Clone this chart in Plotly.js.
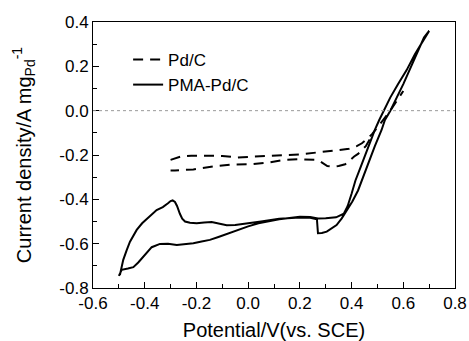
<!DOCTYPE html>
<html>
<head>
<meta charset="utf-8">
<script src="https://cdn.plot.ly/plotly-3.0.1.min.js"></script>
<style>html,body{margin:0;padding:0;background:#fff;}#chart{width:469px;height:341px;}</style>
</head>
<body>
<div id="chart"></div>
<script>
// Pd/C (dashed) — forward branch (upper) and return branch (lower)
const pdcUpperX = [-0.30, -0.28, -0.26, -0.22, -0.15, -0.10, -0.04, 0.04, 0.10, 0.20, 0.28, 0.34, 0.39, 0.42, 0.44, 0.46, 0.48, 0.50, 0.52, 0.55, 0.575, 0.60];
const pdcUpperY = [-0.222, -0.214, -0.207, -0.203, -0.203, -0.204, -0.211, -0.207, -0.201, -0.197, -0.187, -0.180, -0.172, -0.160, -0.147, -0.128, -0.105, -0.075, -0.045, 0.000, 0.045, 0.089];
const pdcLowerX = [0.47, 0.455, 0.44, 0.425, 0.41, 0.39, 0.375, 0.35, 0.33, 0.306, 0.29, 0.28, 0.26, 0.20, 0.14, 0.078, 0.007, -0.064, -0.135, -0.212, -0.283, -0.30];
const pdcLowerY = [-0.130, -0.160, -0.177, -0.195, -0.207, -0.228, -0.242, -0.250, -0.252, -0.250, -0.238, -0.230, -0.222, -0.219, -0.222, -0.234, -0.242, -0.243, -0.252, -0.265, -0.270, -0.270];

// PMA-Pd/C (solid) — closed CV loop
const pmaX = [-0.50, -0.489, -0.465, -0.444, -0.425, -0.405, -0.39, -0.373, -0.341, -0.31, -0.276, -0.24, -0.212, -0.18, -0.148, -0.115, -0.083, -0.04, 0.0, 0.04, 0.08, 0.12, 0.16, 0.20, 0.24, 0.27, 0.30, 0.34, 0.37,
               0.385, 0.40, 0.415, 0.435, 0.46, 0.49, 0.507, 0.525, 0.55, 0.58, 0.613, 0.645, 0.67, 0.70,
               0.68, 0.654, 0.626, 0.60, 0.575, 0.55, 0.529, 0.516, 0.49, 0.465, 0.445, 0.425, 0.403, 0.388, 0.362, 0.342, 0.32, 0.304, 0.285, 0.27, 0.266, 0.24, 0.20, 0.12, 0.05, 0.0, -0.05, -0.083, -0.11, -0.141, -0.17, -0.199, -0.225, -0.244, -0.255, -0.264, -0.275, -0.283, -0.292, -0.30, -0.31, -0.33, -0.354, -0.375, -0.392, -0.41, -0.431, -0.457, -0.47, -0.483, -0.496];
const pmaY = [-0.745, -0.718, -0.712, -0.706, -0.685, -0.658, -0.637, -0.616, -0.601, -0.600, -0.606, -0.601, -0.598, -0.590, -0.583, -0.570, -0.556, -0.538, -0.522, -0.508, -0.498, -0.490, -0.484, -0.479, -0.480, -0.486, -0.485, -0.481, -0.465,
               -0.430, -0.375, -0.315, -0.255, -0.175, -0.087, -0.042, 0.000, 0.060, 0.120, 0.183, 0.255, 0.305, 0.360,
               0.330, 0.262, 0.183, 0.120, 0.060, 0.000, -0.042, -0.087, -0.160, -0.235, -0.300, -0.360, -0.410, -0.440, -0.486, -0.516, -0.535, -0.546, -0.552, -0.553, -0.490, -0.483, -0.482, -0.488, -0.500, -0.508, -0.516, -0.517, -0.510, -0.502, -0.504, -0.508, -0.506, -0.500, -0.487, -0.465, -0.430, -0.412, -0.405, -0.408, -0.418, -0.435, -0.448, -0.470, -0.490, -0.508, -0.538, -0.591, -0.630, -0.673, -0.741];

const xTickVals = [-0.6, -0.4, -0.2, 0.0, 0.2, 0.4, 0.6, 0.8];
const xTickText = ['-0.6', '-0.4', '-0.2', '0.0', '0.2', '0.4', '0.6', '0.8'];
const yTickVals = [-0.8, -0.6, -0.4, -0.2, 0.0, 0.2, 0.4];
const yTickText = ['-0.8', '-0.6', '-0.4', '-0.2', '0.0', '0.2', '0.4'];

const FONT = 'Liberation Sans, Arial, sans-serif';

const traces = [
  {x: pdcUpperX, y: pdcUpperY, mode: 'lines', name: 'Pd/C', legendgroup: 'pdc',
   line: {color: '#000', width: 2, dash: '10px,7px'}},
  {x: pdcLowerX, y: pdcLowerY, mode: 'lines', name: 'Pd/C', legendgroup: 'pdc', showlegend: false,
   line: {color: '#000', width: 2, dash: '10px,7px'}},
  {x: pmaX, y: pmaY, mode: 'lines', name: 'PMA-Pd/C',
   line: {color: '#000', width: 2}}
];

const axisCommon = {
  showgrid: false, zeroline: false, showline: true, linecolor: '#000', linewidth: 1,
  mirror: true, ticks: 'inside', ticklen: 6, tickwidth: 1, tickcolor: '#000',
  tickfont: {family: FONT, size: 17, color: '#000'},
  minor: {ticks: 'inside', ticklen: 4, tickwidth: 1, tickcolor: '#000', dtick: 0.1, showgrid: false}
};

const layout = {
  width: 469, height: 341,
  margin: {l: 93, r: 14, t: 22, b: 53},
  paper_bgcolor: '#fff', plot_bgcolor: '#fff',
  showlegend: true,
  legend: {x: 0.097, y: 0.925, xanchor: 'left', yanchor: 'top', bgcolor: 'rgba(0,0,0,0)',
           font: {family: FONT, size: 17, color: '#000'}, tracegroupgap: 0},
  xaxis: Object.assign({}, axisCommon, {
    range: [-0.6, 0.8], tickmode: 'array', tickvals: xTickVals, ticktext: xTickText,
    title: {text: 'Potential/V(vs. SCE)', font: {family: FONT, size: 20, color: '#000'}, standoff: 10}
  }),
  yaxis: Object.assign({}, axisCommon, {
    range: [-0.8, 0.4], tickmode: 'array', tickvals: yTickVals, ticktext: yTickText,
    title: {text: 'Current density/A mg<sub>Pd</sub><sup>-1</sup>', font: {family: FONT, size: 20, color: '#000'}, standoff: 22}
  }),
  shapes: [{type: 'line', xref: 'paper', yref: 'y', x0: 0, x1: 1, y0: 0, y1: 0,
            line: {color: '#999', width: 1, dash: 'dot'}}]
};

Plotly.newPlot('chart', traces, layout, {displayModeBar: false, staticPlot: true});
</script>
</body>
</html>
